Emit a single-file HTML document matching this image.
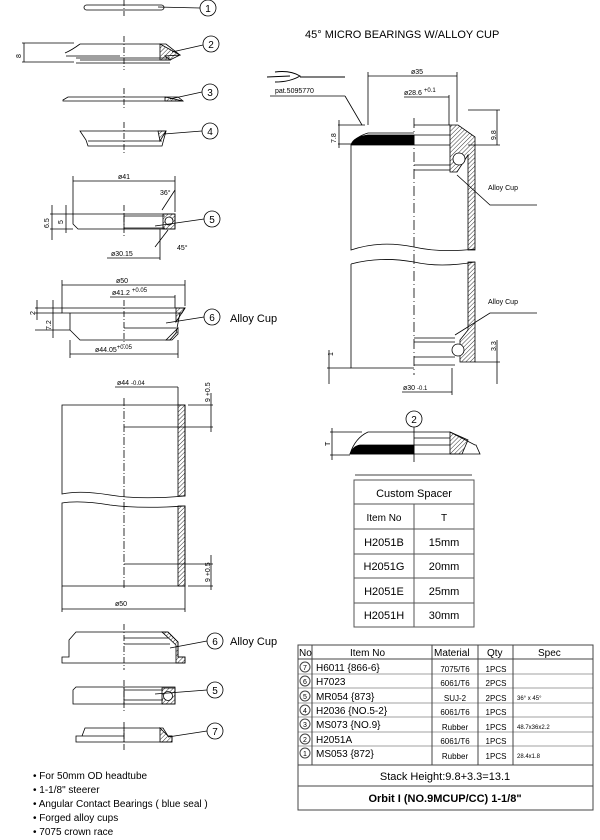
<!DOCTYPE html>
<html><head><meta charset="utf-8"><style>
html,body{margin:0;padding:0;background:#fff;}
svg{display:block;font-family:"Liberation Sans",Arial,sans-serif;}
</style></head><body>
<svg width="600" height="840" viewBox="0 0 600 840" xmlns="http://www.w3.org/2000/svg">
<defs>
<pattern id="h" width="3" height="3" patternUnits="userSpaceOnUse" patternTransform="rotate(45)">
<line x1="0" y1="0" x2="0" y2="3" stroke="#000" stroke-width="0.8"/></pattern>
</defs>
<g stroke="#000" fill="none" stroke-width="0.8">
<!-- part 1 -->
<rect x="84" y="5" width="80" height="5" rx="2.5"/>
<line x1="124" y1="0" x2="124" y2="16" stroke-dasharray="6,2,1,2"/>
<line x1="158" y1="7" x2="200" y2="8"/>
<circle cx="208" cy="8" r="8"/>
<!-- part 2 -->
<path d="M80 44 H166 L180 55 L165 56 L170 60 H80 M65 53 Q72 50 80 44 M66 56 H120 M76 58 H170 M76 63 H170"/>
<path d="M160 44 L180 55 L170 60 L160 60 Z" fill="url(#h)"/>
<line x1="124" y1="36" x2="124" y2="70" stroke-dasharray="6,2,1,2"/>
<line x1="22" y1="43" x2="74" y2="43"/><line x1="22" y1="62" x2="74" y2="62"/>
<line x1="24" y1="43" x2="24" y2="62"/>
<line x1="172" y1="52" x2="203" y2="45"/><circle cx="211" cy="44" r="8"/>
<!-- part 3 -->
<path d="M63 100 L68 97 H178 L183 101 H63 Z"/>
<path d="M165 97 L183 101 L165 101 Z" fill="url(#h)"/>
<line x1="124" y1="88" x2="124" y2="108" stroke-dasharray="6,2,1,2"/>
<line x1="170" y1="99" x2="202" y2="92"/><circle cx="210" cy="92" r="8"/>
<!-- part 4 -->
<path d="M80 131 H166 L162 146 H88 L86 140 Z M88 141 H162"/>
<path d="M158 131 H166 L160 141 Z" fill="url(#h)"/>
<line x1="124" y1="122" x2="124" y2="155" stroke-dasharray="6,2,1,2"/>
<line x1="164" y1="134" x2="202" y2="131"/><circle cx="210" cy="131" r="8"/>
<!-- part 5 -->
<path d="M73 214 H175 V229 H78 L73 224 Z M124 214 V229 M124 216 H165 M124 228 H165"/>
<rect x="163" y="214" width="12" height="15" fill="url(#h)"/><circle cx="169" cy="221" r="4" fill="#fff"/>
<line x1="124" y1="205" x2="124" y2="237" stroke-dasharray="6,2,1,2"/>
<line x1="73" y1="176" x2="73" y2="214"/><line x1="175" y1="176" x2="175" y2="212"/>
<line x1="73" y1="181" x2="175" y2="181"/>
<line x1="155" y1="226" x2="204" y2="219"/><circle cx="212" cy="219" r="8"/>
<line x1="162" y1="210" x2="175" y2="190"/><line x1="155" y1="247" x2="168" y2="230"/>
<line x1="160" y1="229" x2="160" y2="260"/><line x1="107" y1="258" x2="160" y2="258"/>
<line x1="50" y1="214" x2="73" y2="214"/><line x1="50" y1="229" x2="73" y2="229"/>
<line x1="52" y1="205" x2="52" y2="240"/><line x1="66" y1="205" x2="66" y2="233"/>
<!-- part 6 -->
<path d="M62 308 H185 L182 313 H62 Z M70 313 V330 L80 340 H170 L176 333 L180 313 M124 328 H176"/>
<path d="M176 308 H185 L176 322 Z M166 340 L178 328 V334 L172 340 Z" fill="url(#h)"/>
<line x1="124" y1="300" x2="124" y2="345" stroke-dasharray="6,2,1,2"/>
<line x1="62" y1="280" x2="62" y2="308"/><line x1="185" y1="280" x2="185" y2="306"/>
<line x1="62" y1="285" x2="185" y2="285"/>
<line x1="110" y1="297" x2="175" y2="297"/><line x1="175" y1="295" x2="175" y2="308"/>
<line x1="70" y1="340" x2="70" y2="358"/><line x1="178" y1="340" x2="178" y2="358"/>
<line x1="70" y1="354" x2="178" y2="354"/>
<line x1="35" y1="308" x2="62" y2="308"/><line x1="35" y1="313" x2="62" y2="313"/><line x1="35" y1="330" x2="70" y2="330"/>
<line x1="37" y1="300" x2="37" y2="320"/><line x1="53" y1="300" x2="53" y2="338"/>
<line x1="166" y1="323" x2="204" y2="317"/><circle cx="212" cy="317" r="8"/>
<!-- headtube -->
<path d="M62 405 H185 V496 Q140 500 110 495 Q80 490 62 494 Z"/>
<path d="M62 503 Q80 500 110 505 Q140 509 185 506 V586 H62 Z"/>
<rect x="178" y="405" width="7" height="91" fill="url(#h)"/>
<rect x="178" y="506" width="7" height="80" fill="url(#h)"/>
<line x1="124" y1="398" x2="124" y2="590" stroke-dasharray="8,2,1,2"/>
<line x1="124" y1="427" x2="213" y2="427"/><line x1="188" y1="405" x2="213" y2="405"/>
<line x1="211" y1="393" x2="211" y2="432"/>
<line x1="124" y1="564" x2="213" y2="564"/><line x1="188" y1="586" x2="213" y2="586"/>
<line x1="211" y1="555" x2="211" y2="590"/>
<line x1="115" y1="387" x2="178" y2="387"/><line x1="178" y1="387" x2="178" y2="405"/>
<line x1="62" y1="586" x2="62" y2="612"/><line x1="185" y1="586" x2="185" y2="612"/>
<line x1="62" y1="609" x2="185" y2="609"/>
<!-- lower cup -->
<path d="M76 632 H168 L178 642 V657 H185 V663 H62 V657 H69 V640 Z M124 638 H168 M124 644 H170"/>
<path d="M162 632 H168 L178 642 V657 H185 V663 H176 V645 Z" fill="url(#h)"/>
<line x1="124" y1="624" x2="124" y2="670" stroke-dasharray="6,2,1,2"/>
<line x1="170" y1="648" x2="207" y2="641"/><circle cx="215" cy="641" r="8"/>
<!-- lower bearing -->
<path d="M76 687 H175 V704 H73 V690 Z M124 687 V704 M124 690 H163 M124 700 H163"/>
<rect x="162" y="688" width="13" height="16" fill="url(#h)"/><circle cx="168" cy="696" r="4.5" fill="#fff"/>
<line x1="124" y1="680" x2="124" y2="712" stroke-dasharray="6,2,1,2"/>
<line x1="155" y1="694" x2="207" y2="690"/><circle cx="215" cy="690" r="8"/>
<!-- crown race -->
<path d="M85 728 H163 L168 736 H172 V742 H76 V736 H82 Z M82 736 H124 M124 728 V742"/>
<path d="M160 728 L168 736 H172 V742 H160 Z" fill="url(#h)"/>
<line x1="124" y1="722" x2="124" y2="750" stroke-dasharray="6,2,1,2"/>
<line x1="168" y1="737" x2="207" y2="731"/><circle cx="215" cy="731" r="8"/>
<!-- right main drawing -->
<path d="M351 145 Q355 137 368 133 H414 M351 145 V250 Q380 240 414 247"/>
<path d="M351 145 Q353 137 368 135 H414 V145 Z" fill="#000"/>
<path d="M351 264 Q380 256 414 262 M351 264 V368 H414"/>
<path d="M414 262 Q440 268 475 262 M414 247 Q440 253 475 249"/>
<path d="M414 125 H450 M414 135 H450 M414 145 H450 M414 165 H450 M414 170 H450 M414 338 H455 M414 342 H455 M414 357 H455 M414 365 H455"/>
<line x1="414" y1="118" x2="414" y2="375" stroke-dasharray="10,3,1,3"/>
<path d="M450 125 L458 125 L475 137 V250 H468 V155 L457 172 H450 Z" fill="url(#h)"/>
<path d="M468 262 H475 V362 H460 V340 L468 330 Z" fill="url(#h)"/>
<circle cx="459" cy="159" r="6" fill="#fff"/><circle cx="458" cy="350" r="6" fill="#fff"/>
<path d="M468 110 H500 M468 145 H500 M497 110 V145"/>
<line x1="368" y1="72" x2="368" y2="125"/><line x1="457" y1="72" x2="457" y2="122"/>
<line x1="368" y1="76" x2="457" y2="76"/>
<line x1="404" y1="97" x2="449" y2="97"/><line x1="449" y1="95" x2="449" y2="125"/>
<line x1="338" y1="125" x2="365" y2="125"/><line x1="338" y1="144" x2="351" y2="144"/>
<line x1="339" y1="120" x2="339" y2="148"/>
<line x1="270" y1="96" x2="345" y2="96"/><path d="M345 96 L362 125"/>
<path d="M267 77 L290 76 M275 72 Q290 70 300 76 Q290 82 275 82 M300 77 H345" stroke-width="1"/>
<path d="M457 175 L490 205 H537"/><path d="M455 335 L490 313 H537"/>
<line x1="475" y1="362" x2="500" y2="362"/><line x1="497" y1="340" x2="497" y2="384"/>
<line x1="327" y1="368" x2="351" y2="368"/><line x1="329" y1="350" x2="329" y2="384"/>
<line x1="452" y1="368" x2="452" y2="395"/><line x1="402" y1="392" x2="452" y2="392"/>
<!-- spacer drawing -->
<path d="M350 454 Q355 438 368 432 H414 M414 432 H450 L475 445 H476 L480 454 H350"/>
<path d="M350 454 Q353 446 360 445 H414 V454 Z" fill="#000"/>
<path d="M450 432 L468 440 L462 454 H450 Z" fill="url(#h)"/>
<path d="M414 438 H450 M414 445 H450"/>
<line x1="414" y1="427" x2="414" y2="462"/><circle cx="414" cy="419" r="8"/>
<line x1="330" y1="432" x2="362" y2="432"/><line x1="330" y1="455" x2="350" y2="455"/>
<line x1="332" y1="428" x2="332" y2="460"/>
<line x1="355" y1="475" x2="472" y2="475"/>
</g>
<g font-size="10" fill="#000" text-anchor="middle">
<text x="208" y="12">1</text><text x="211" y="48">2</text><text x="210" y="96">3</text><text x="210" y="135">4</text>
<text x="212" y="223">5</text><text x="212" y="321">6</text><text x="215" y="645">6</text><text x="215" y="694">5</text>
<text x="215" y="735">7</text><text x="414" y="423">2</text>
</g>
<g font-size="7" fill="#000">
<text x="118" y="179">ø41</text><text x="160" y="195">36°</text><text x="177" y="250">45°</text>
<text x="111" y="256">ø30.15</text><text x="116" y="283">ø50</text>
<text x="112" y="295">ø41.2 <tspan font-size="6" dy="-3">+0.05</tspan></text>
<text x="95" y="352">ø44.05<tspan font-size="6" dy="-3">+0.05</tspan></text>
<text x="117" y="385">ø44 <tspan font-size="6">-0.04</tspan></text>
<text x="115" y="606">ø50</text>
<text x="411" y="74">ø35</text><text x="404" y="95">ø28.6 <tspan font-size="6" dy="-3">+0.1</tspan></text>
<text x="403" y="390">ø30 <tspan font-size="6">-0.1</tspan></text>
<text x="275" y="93">pat.5095770</text>
<text x="488" y="190">Alloy Cup</text><text x="488" y="304">Alloy Cup</text>
<text transform="translate(21,58) rotate(-90)">8</text>
<text transform="translate(49,228) rotate(-90)">6.5</text>
<text transform="translate(63,224) rotate(-90)">5</text>
<text transform="translate(35,315) rotate(-90)">2</text>
<text transform="translate(51,330) rotate(-90)">7.2</text>
<text transform="translate(336,143) rotate(-90)">7.8</text>
<text transform="translate(496,140) rotate(-90)">9.8</text>
<text transform="translate(496,351) rotate(-90)">3.3</text>
<text transform="translate(333,356) rotate(-90)">1</text>
<text transform="translate(330,446) rotate(-90)">T</text>
<text transform="translate(210,402) rotate(-90)">9 +0.5</text>
<text transform="translate(210,582) rotate(-90)">9 +0.5</text>
</g>
<text x="305" y="38" font-size="11">45° MICRO BEARINGS W/ALLOY CUP</text>
<text x="230" y="322" font-size="11">Alloy Cup</text>
<text x="230" y="645" font-size="11">Alloy Cup</text>
<g font-size="10" fill="#000">
<text x="33" y="779">• For 50mm OD headtube</text>
<text x="33" y="793">• 1-1/8" steerer</text>
<text x="33" y="807">• Angular Contact Bearings ( blue seal )</text>
<text x="33" y="821">• Forged alloy cups</text>
<text x="33" y="835">• 7075 crown race</text>
</g>
<!-- spacer table -->
<g stroke="#555" fill="none" stroke-width="1">
<rect x="354" y="480" width="120" height="147"/>
<line x1="354" y1="504" x2="474" y2="504"/><line x1="354" y1="529" x2="474" y2="529"/>
<line x1="354" y1="554" x2="474" y2="554"/><line x1="354" y1="578" x2="474" y2="578"/>
<line x1="354" y1="603" x2="474" y2="603"/><line x1="414" y1="504" x2="414" y2="627"/>
</g>
<g font-size="11" text-anchor="middle" fill="#000">
<text x="414" y="497">Custom Spacer</text>
<text x="384" y="521" font-size="10">Item No</text><text x="444" y="521" font-size="10">T</text>
<text x="384" y="546">H2051B</text><text x="444" y="546">15mm</text>
<text x="384" y="570">H2051G</text><text x="444" y="570">20mm</text>
<text x="384" y="595">H2051E</text><text x="444" y="595">25mm</text>
<text x="384" y="619">H2051H</text><text x="444" y="619">30mm</text>
</g>
<!-- main table -->
<g stroke="#444" fill="none" stroke-width="1">
<rect x="298" y="645" width="295" height="165"/>
<line x1="298" y1="659" x2="593" y2="659"/>
<line x1="298" y1="765" x2="593" y2="765"/><line x1="298" y1="786" x2="593" y2="786"/>
<line x1="312" y1="645" x2="312" y2="765"/><line x1="432" y1="645" x2="432" y2="765"/>
<line x1="478" y1="645" x2="478" y2="765"/><line x1="513" y1="645" x2="513" y2="765"/>
<g stroke-width="0.6">
<line x1="298" y1="674" x2="593" y2="674"/><line x1="298" y1="688" x2="593" y2="688"/>
<line x1="298" y1="703" x2="593" y2="703"/><line x1="298" y1="717" x2="593" y2="717"/>
<line x1="298" y1="732" x2="593" y2="732"/><line x1="298" y1="746" x2="593" y2="746"/>
</g>
<circle cx="305" cy="667" r="5"/><circle cx="305" cy="681" r="5"/><circle cx="305" cy="696" r="5"/>
<circle cx="305" cy="710" r="5"/><circle cx="305" cy="724" r="5"/><circle cx="305" cy="739" r="5"/><circle cx="305" cy="753" r="5"/>
</g>
<g font-size="7" text-anchor="middle" fill="#000">
<text x="305" y="670">7</text><text x="305" y="684">6</text><text x="305" y="699">5</text><text x="305" y="713">4</text>
<text x="305" y="727">3</text><text x="305" y="742">2</text><text x="305" y="756">1</text>
</g>
<g font-size="10" fill="#000">
<text x="299" y="656">No</text><text x="350" y="656">Item No</text><text x="434" y="656">Material</text>
<text x="487" y="656">Qty</text><text x="538" y="656">Spec</text>
<text x="316" y="671">H6011 {866-6}</text><text x="316" y="685">H7023</text><text x="316" y="700">MR054 {873}</text>
<text x="316" y="714">H2036 {NO.5-2}</text><text x="316" y="728">MS073 {NO.9}</text><text x="316" y="743">H2051A</text>
<text x="316" y="757">MS053 {872}</text>
</g>
<g font-size="8" fill="#000" text-anchor="middle">
<text x="455" y="672">7075/T6</text><text x="455" y="686">6061/T6</text><text x="455" y="701">SUJ-2</text>
<text x="455" y="715">6061/T6</text><text x="455" y="730">Rubber</text><text x="455" y="744">6061/T6</text><text x="455" y="759">Rubber</text>
<text x="496" y="672">1PCS</text><text x="496" y="686">2PCS</text><text x="496" y="701">2PCS</text>
<text x="496" y="715">1PCS</text><text x="496" y="730">1PCS</text><text x="496" y="744">1PCS</text><text x="496" y="759">1PCS</text>
</g>
<g font-size="6" fill="#000">
<text x="517" y="700">36° x 45°</text><text x="517" y="729">48.7x36x2.2</text><text x="517" y="758">28.4x1.8</text>
</g>
<text x="445" y="780" font-size="11" text-anchor="middle">Stack Height:9.8+3.3=13.1</text>
<text x="445" y="802" font-size="11" font-weight="bold" text-anchor="middle">Orbit I (NO.9MCUP/CC)  1-1/8"</text>
</svg>
</body></html>
